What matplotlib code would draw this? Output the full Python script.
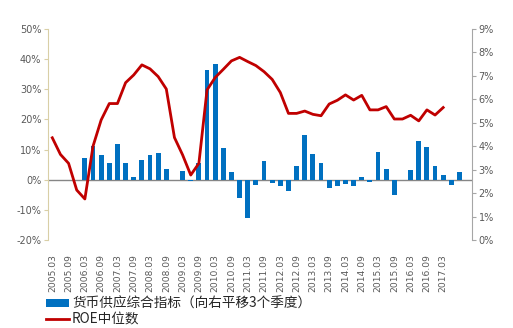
import numpy as np
import matplotlib
matplotlib.use("Agg")
from matplotlib import pyplot as plt
from matplotlib.ticker import FuncFormatter, MultipleLocator

plt.rcParams['font.family'] = ['Noto Sans CJK SC', 'DejaVu Sans']

# quarterly categories, 2005.03 .. 2017.12
quarters = [f"{y}.{m}" for y in range(2005, 2018) for m in ("03", "06", "09", "12")]
tick_labels = quarters[0:49:2]

# money supply composite indicator, shifted right by 3 quarters (%)
nan = np.nan
money_supply = [nan, nan, nan, nan, 7.3, 11.1, 8.3, 5.5, 11.8, 5.5,
                0.8, 6.4, 8.2, 8.8, 3.4, nan, 2.9, -0.4, 5.7, 36.5,
                38.3, 10.6, 2.5, -6.1, -12.7, -1.7, 6.1, -1.1, -2.2, -3.8,
                4.6, 14.7, 8.5, 5.5, -2.9, -2.2, -1.3, -2.2, 1.0, -0.8,
                9.1, 3.4, -5.0, nan, 3.1, 12.9, 10.8, 4.6, 1.5, -1.7,
                2.5, nan]

# ROE median (%)
roe_median = [4.36, 3.65, 3.27, 2.13, 1.75, 4.0, 5.12, 5.82, 5.82, 6.71,
              7.04, 7.47, 7.30, 6.97, 6.44, 4.37, 3.63, 2.77, 3.27, 6.40,
              6.93, 7.28, 7.64, 7.79, 7.61, 7.44, 7.18, 6.85, 6.29, 5.40,
              5.40, 5.50, 5.36, 5.30, 5.80, 5.96, 6.19, 5.97, 6.17, 5.55,
              5.55, 5.69, 5.16, 5.16, 5.32, 5.08, 5.55, 5.33, 5.65]

label_bar = "货币供应综合指标（向右平移3个季度）"
label_line = "ROE中位数"

x = np.arange(len(quarters))
text_color = "#595959"

fig = plt.figure(figsize=(5.13, 3.28), dpi=100)
ax1 = fig.add_axes([0.094, 0.2683, 0.8255, 0.6433])
ax2 = ax1.twinx()

bars = ax1.bar(x, money_supply, width=0.6, color="#0070C0", zorder=2)
ax1.axhline(0, color="#868686", lw=1, zorder=1)
line, = ax2.plot(np.arange(len(roe_median)), roe_median, color="#C00000", lw=2)

ax1.set_xlim(-0.5, len(quarters) - 0.5)
ax1.set_ylim(-20, 50)
ax2.set_ylim(0, 9)
ax1.yaxis.set_major_locator(MultipleLocator(10))
ax2.yaxis.set_major_locator(MultipleLocator(1))
pct = FuncFormatter(lambda v, p: f"{v:.0f}%")
ax1.yaxis.set_major_formatter(pct)
ax2.yaxis.set_major_formatter(pct)

ax1.set_xticks(x[0:49:2])
ax1.set_xticklabels(tick_labels, rotation=90, fontsize=6.6, color=text_color,
                    family="DejaVu Sans")
ax1.tick_params(axis="x", length=0, pad=10)

ax1.tick_params(axis="y", direction="out", length=3, color="#D9CFA6",
                labelsize=7, labelcolor=text_color, pad=2)
ax2.tick_params(axis="y", direction="out", length=3, color="#A6A6A6",
                labelsize=7, labelcolor=text_color, pad=2)
for t in ax1.get_yticklabels() + ax2.get_yticklabels():
    t.set_family("DejaVu Sans")

for ax in (ax1, ax2):
    ax.spines["top"].set_visible(False)
    ax.spines["bottom"].set_visible(False)
    ax.patch.set_visible(False)
ax1.spines["right"].set_visible(False)
ax2.spines["left"].set_visible(False)
ax1.spines["left"].set_color("#D9CFA6")
ax2.spines["right"].set_color("#A6A6A6")

fig.legend([bars, line], [label_bar, label_line], loc="upper left",
           bbox_to_anchor=(0.09, 0.096), frameon=False, fontsize=9.8,
           handlelength=1.7, handleheight=0.55, handletextpad=0.2,
           labelspacing=0.15, borderpad=0, borderaxespad=0,
           labelcolor="#262626")

fig.savefig("out.png", dpi=100)
